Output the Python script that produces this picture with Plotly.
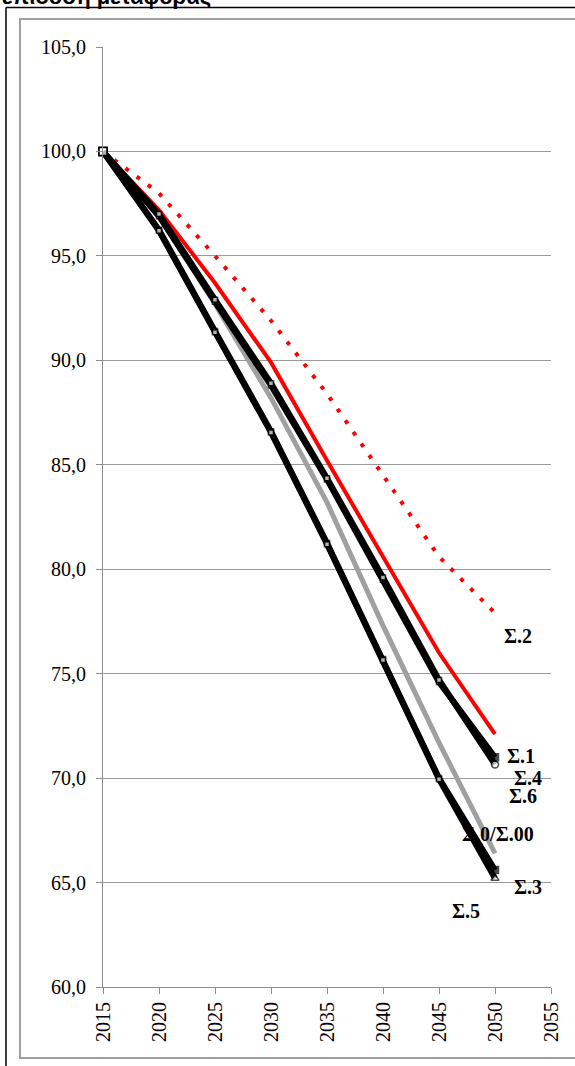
import plotly.graph_objects as go

years = [2015, 2020, 2025, 2030, 2035, 2040, 2045, 2050]

s2_dotted = [100.0, 98.0, 95.0, 91.9, 88.4, 84.5, 80.6, 77.9]
s1_red = [100.0, 97.2, 93.7, 89.9, 85.2, 80.6, 76.0, 72.1]
s4_black = [100.0, 97.0, 92.9, 88.9, 84.35, 79.6, 74.7, 70.65]
s6_black = [100.0, 96.9, 92.8, 88.8, 84.3, 79.5, 74.6, 71.0]
s0_gray = [100.0, 96.9, 92.7, 88.2, 83.2, 77.3, 71.7, 66.4]
s5_black = [100.0, 96.25, 91.4, 86.6, 81.25, 75.7, 70.0, 65.6]
s3_black = [100.0, 96.2, 91.35, 86.55, 81.2, 75.65, 69.95, 65.2]

labels = ["Σ.2", "Σ.1", "Σ.4", "Σ.6", "Σ.0/Σ.00", "Σ.3", "Σ.5"]
label_x = [2052.05, 2052.3, 2052.95, 2052.5, 2050.3, 2052.95, 2047.4]
label_y = [76.8, 71.08, 70.02, 69.16, 67.34, 64.8, 63.65]

title_text = "επίδοση μεταφοράς"

SERIF = "Liberation Serif, Times New Roman, Times, serif"

fig = go.Figure()

fig.add_trace(go.Scatter(x=years, y=s0_gray, mode="lines", name="Σ.0/Σ.00",
                         line=dict(color="#A0A0A0", width=5), cliponaxis=False))
fig.add_trace(go.Scatter(x=years, y=s2_dotted, mode="lines", name="Σ.2",
                         line=dict(color="#FF0000", width=4, dash="4px,10px"), cliponaxis=False))
fig.add_trace(go.Scatter(x=years, y=s1_red, mode="lines", name="Σ.1",
                         line=dict(color="#FF0000", width=4), cliponaxis=False))


def black_trace(vals, name, end_symbol, end_fill):
    n = len(vals)
    symbols = ["square"] * (n - 1) + [end_symbol]
    fills = ["white"] * (n - 1) + [end_fill]
    sizes = [8] + [5] * (n - 2) + [7]
    return go.Scatter(x=years, y=vals, mode="lines+markers", name=name,
                      line=dict(color="black", width=6),
                      marker=dict(symbol=symbols, color=fills, size=sizes,
                                  line=dict(color="black", width=1.5)),
                      cliponaxis=False)


fig.add_trace(black_trace(s6_black, "Σ.6", "square", "black"))
fig.add_trace(black_trace(s4_black, "Σ.4", "circle", "white"))
fig.add_trace(black_trace(s5_black, "Σ.5", "square", "black"))
fig.add_trace(black_trace(s3_black, "Σ.3", "triangle-up", "white"))

for t, lx, ly in zip(labels, label_x, label_y):
    fig.add_annotation(x=lx, y=ly, xref="x", yref="y", text="<b>%s</b>" % t,
                       showarrow=False, xanchor="center", yanchor="middle",
                       font=dict(family=SERIF, size=20, color="black"))

fig.add_annotation(x=-103 / 448, y=(987 + 4) / 940, xref="paper", yref="paper",
                   text="<b>%s</b>" % title_text, showarrow=False,
                   xanchor="left", yanchor="middle",
                   font=dict(family="Liberation Sans, Arial, sans-serif", size=22, color="black"))

# chart area border (gray) and outer black frame lines
fig.add_shape(type="rect", xref="paper", yref="paper",
              x0=(20 - 103) / 448, x1=(590 - 103) / 448,
              y0=(987 - 1058) / 940, y1=(987 - 19) / 940,
              line=dict(color="#A0A0A0", width=2), layer="below")
fig.add_shape(type="line", xref="paper", yref="paper",
              x0=(6 - 103) / 448, x1=(590 - 103) / 448,
              y0=(987 - 7.5) / 940, y1=(987 - 7.5) / 940,
              line=dict(color="black", width=1.5))
fig.add_shape(type="line", xref="paper", yref="paper",
              x0=(6 - 103) / 448, x1=(6 - 103) / 448,
              y0=(987 - 7.5) / 940, y1=(987 - 1080) / 940,
              line=dict(color="black", width=1.5))

fig.update_layout(
    width=575, height=1066,
    margin=dict(l=103, r=24, t=47, b=79),
    paper_bgcolor="white", plot_bgcolor="white",
    showlegend=False,
    separators=", ",
    font=dict(family=SERIF, size=20, color="black"),
)
fig.update_xaxes(range=[2015, 2055], tick0=2015, dtick=5, tickangle=-90,
                 showgrid=False, zeroline=False,
                 showline=True, linecolor="#8C8C8C", linewidth=1,
                 ticks="outside", ticklen=6, tickcolor="#8C8C8C",
                 tickfont=dict(family=SERIF, size=20, color="black"))
fig.update_yaxes(range=[60, 105], tick0=60, dtick=5, tickformat=".1f",
                 showgrid=True, gridcolor="#9A9A9A", gridwidth=1, zeroline=False,
                 showline=True, linecolor="#8C8C8C", linewidth=1,
                 ticks="outside", ticklen=6, tickcolor="#8C8C8C",
                 ticklabelstandoff=6,
                 tickfont=dict(family=SERIF, size=20, color="black"))

fig.write_html("out.html", config={"displayModeBar": False},
               post_script="document.body.style.margin='0';document.body.style.overflow='hidden';")
